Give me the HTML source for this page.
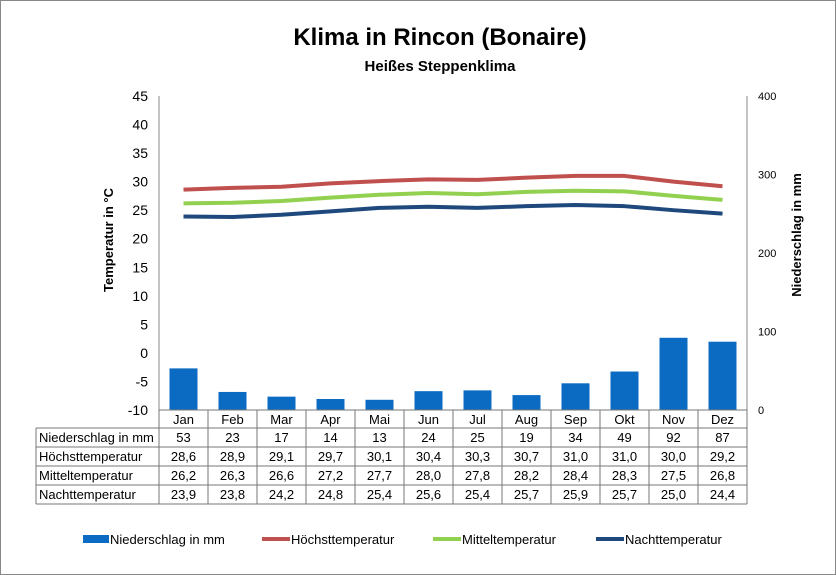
<!DOCTYPE html>
<html><head><meta charset="utf-8"><style>
body{margin:0;background:#fff;}
svg{display:block;font-family:"Liberation Sans",Arial,sans-serif;}
</style></head><body>
<svg id="c" width="836" height="575">
<rect x="0.5" y="0.5" width="835" height="574" fill="#fff" stroke="#888"/>
<text x="440" y="45" font-size="24" font-weight="bold" text-anchor="middle">Klima in Rincon (Bonaire)</text>
<text x="440" y="71" font-size="15" font-weight="bold" text-anchor="middle">Heißes Steppenklima</text>
<text transform="translate(113,240) rotate(-90)" font-size="13" font-weight="bold" text-anchor="middle">Temperatur in °C</text>
<text transform="translate(801,235) rotate(-90)" font-size="13" font-weight="bold" text-anchor="middle">Niederschlag in mm</text>
<g id="g"></g>
</svg>
<script>
const months=["Jan","Feb","Mar","Apr","Mai","Jun","Jul","Aug","Sep","Okt","Nov","Dez"];
const rain=[53,23,17,14,13,24,25,19,34,49,92,87];
const tmax=[28.6,28.9,29.1,29.7,30.1,30.4,30.3,30.7,31.0,31.0,30.0,29.2];
const tmid=[26.2,26.3,26.6,27.2,27.7,28.0,27.8,28.2,28.4,28.3,27.5,26.8];
const tmin=[23.9,23.8,24.2,24.8,25.4,25.6,25.4,25.7,25.9,25.7,25.0,24.4];
const leftTicks=[45,40,35,30,25,20,15,10,5,0,-5,-10];
const rightTicks=[400,300,200,100,0];
const L=159,R=747,T=96,B=410,N=12,cw=(R-L)/N;
const xc=i=>L+cw*(i+0.5);
const yT=v=>B-(v+10)/55*(B-T);
const yR=v=>B-v/400*(B-T);
const g=document.getElementById('g');
const NS="http://www.w3.org/2000/svg";
function mk(t,a,txt){const e=document.createElementNS(NS,t);for(const k in a)e.setAttribute(k,a[k]);if(txt!=null)e.textContent=txt;g.appendChild(e);return e;}
// axes
let e=mk('line',{x1:L,y1:T,x2:L,y2:B,stroke:'#888'});


e=mk('line',{x1:R,y1:T,x2:R,y2:B,stroke:'#888'});


leftTicks.forEach(v=>{const t=mk('text',{x:148,y:yT(v)+5,'font-size':14,'text-anchor':'end'},String(v));

});
rightTicks.forEach(v=>{const t=mk('text',{x:758,y:yR(v)+4,'font-size':11},String(v));

});
// bars
rain.forEach((v,i)=>{const b=mk('rect',{x:xc(i)-14,y:yR(v),width:28,height:B-yR(v),fill:'#0b6bc2'});

});
// lines
function line(arr,col,name){let d='';arr.forEach((v,i)=>{d+=(i?'L':'M')+xc(i)+','+yT(v);});
const p=mk('path',{d:d,fill:'none',stroke:col,'stroke-width':4,'stroke-linejoin':'round'});

}
line(tmax,'#c0504d','line-hoechsttemperatur');
line(tmid,'#92d050','line-mitteltemperatur');
line(tmin,'#1f497d','line-nachttemperatur');
// table
const tl=36,rows=[410,428,447,466,485,504];
for(let r=0;r<rows.length;r++){const x1=r<2?(r==0?L:tl):tl;const ln=mk('line',{x1:r==0?L:tl,y1:rows[r],x2:R,y2:rows[r],stroke:'#777'});

}
for(let i=0;i<=N;i++){const ln=mk('line',{x1:L+cw*i,y1:410,x2:L+cw*i,y2:504,stroke:'#777'});

}
e=mk('line',{x1:tl,y1:428,x2:tl,y2:504,stroke:'#777'});


months.forEach((m,i)=>{const t=mk('text',{x:xc(i),y:424,'font-size':13,'text-anchor':'middle'},m);

});
const rowNames=["Niederschlag in mm","Höchsttemperatur","Mitteltemperatur","Nachttemperatur"];
const rowData=[rain,tmax,tmid,tmin];
rowNames.forEach((n,r)=>{const y=rows[r+1]+14;
const t=mk('text',{x:39,y:y,'font-size':13},n);


rowData[r].forEach((v,i)=>{const s=r==0?String(v):v.toFixed(1).replace('.',',');
const c=mk('text',{x:xc(i),y:y,'font-size':13,'text-anchor':'middle'},s);

});});
// legend
const leg=[["Niederschlag in mm",'#0b6bc2',83,1],["Höchsttemperatur",'#c0504d',262,0],["Mitteltemperatur",'#92d050',433,0],["Nachttemperatur",'#1f497d',596,0]];
leg.forEach(([n,c,x,bar])=>{
const s=bar?mk('rect',{x:x,y:535,width:26,height:8,fill:c}):mk('line',{x1:x,y1:539,x2:x+28,y2:539,stroke:c,'stroke-width':4});


const t=mk('text',{x:x+(bar?27:29),y:544,'font-size':13},n);

});
</script>
</body></html>
